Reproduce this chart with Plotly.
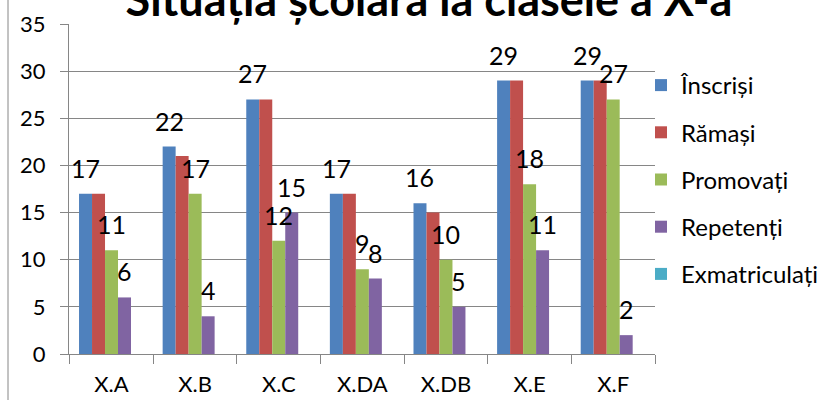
import plotly.graph_objects as go

categories = ["X.A", "X.B", "X.C", "X.DA", "X.DB", "X.E", "X.F"]
inscrisi = [17, 22, 27, 17, 16, 29, 29]
ramasi = [17, 21, 27, 17, 15, 29, 29]
promovati = [11, 17, 12, 9, 10, 18, 27]
repetenti = [6, 4, 15, 8, 5, 11, 2]
exmatriculati = [0, 0, 0, 0, 0, 0, 0]

series_names = ["Înscriși", "Rămași", "Promovați", "Repetenți", "Exmatriculați"]
series_values = [inscrisi, ramasi, promovati, repetenti, exmatriculati]
colors = ["#4F81BD", "#C0504D", "#9BBB59", "#8064A2", "#4BACC6"]
labelled = [True, False, True, True, False]

W, H = 823, 400
ML, MR, MT, MB = 69, 168, 24, 46
BARGAP = 0.223
FONT = "Lato"

fig = go.Figure()
for i, (name, vals) in enumerate(zip(series_names, series_values)):
    fig.add_trace(go.Bar(
        x=categories, y=vals, name=name,
        marker=dict(color=colors[i], line=dict(width=0)),
        legendgroup=name,
    ))

plot_w = W - ML - MR
plot_h = H - MT - MB
cat_px = plot_w / len(categories)
bar_px = cat_px * (1 - BARGAP) / len(series_names)
n = len(series_names)
for i, vals in enumerate(series_values):
    if not labelled[i]:
        continue
    for c, v in zip(categories, vals):
        fig.add_annotation(
            x=c, y=v, text=str(v), showarrow=False,
            xshift=(i - (n - 1) / 2) * bar_px, yshift=26,
            yanchor="middle", xanchor="center",
            font=dict(family=FONT, size=25, color="black"),
        )

# outer chart border (left edge)
fig.add_shape(type="line", xref="paper", yref="paper",
              x0=(8 - ML) / plot_w, x1=(8 - ML) / plot_w,
              y0=-MB / plot_h, y1=1 + MT / plot_h,
              line=dict(color="#868686", width=1))

fig.update_layout(
    width=W, height=H,
    margin=dict(l=ML, r=MR, t=MT, b=MB, autoexpand=False),
    paper_bgcolor="white", plot_bgcolor="white",
    barmode="group", bargap=BARGAP, bargroupgap=0,
    title=dict(text="<b>Situația școlară la clasele a X-a</b>",
               x=429 / W, xanchor="center", y=1.0, yanchor="middle",
               font=dict(family=FONT, size=45, color="black")),
    font=dict(family=FONT, size=22, color="black"),
    showlegend=True,
    legend=dict(x=(641 - ML) / plot_w, xanchor="left", y=1 - (63 - MT) / plot_h,
                yanchor="top", traceorder="grouped", tracegroupgap=13,
                font=dict(family=FONT, size=24, color="black"),
                bgcolor="rgba(0,0,0,0)", itemwidth=30),
    xaxis=dict(showline=True, linecolor="#868686", linewidth=1,
               ticks="outside", tickson="boundaries", ticklen=9, tickcolor="#868686",
               ticklabelstandoff=11,
               tickfont=dict(family=FONT, size=22), showgrid=False, automargin=False),
    yaxis=dict(range=[0, 35], dtick=5, showline=True, linecolor="#868686", linewidth=1,
               ticks="outside", ticklen=8, tickcolor="#868686",
               ticklabelstandoff=10,
               showgrid=True, gridcolor="#868686", gridwidth=1, zeroline=False,
               tickfont=dict(family=FONT, size=22), automargin=False),
)

fig.write_html("out.html", post_script="document.body.style.margin='0';",
               config={"displayModeBar": False})
